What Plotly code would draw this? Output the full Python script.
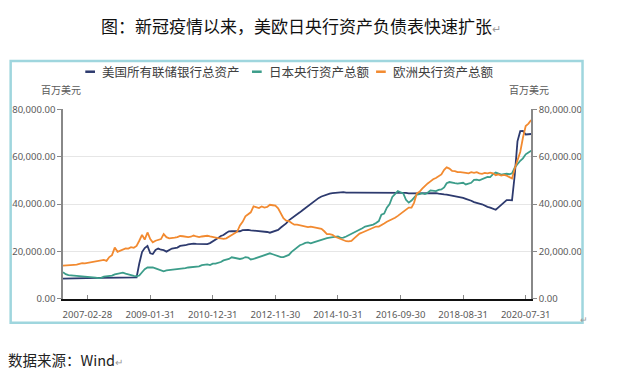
import pandas as pd
import plotly.graph_objects as go

# ---------------- data (monthly, 2006-05 .. 2020-09) ----------------
fed_assets = [
    # 2006 May-Dec
    8500, 8550, 8580, 8600, 8620, 8650, 8680, 8740,
    # 2007
    8700, 8720, 8750, 8780, 8800, 8820, 8840, 8850, 8800, 8850, 8900, 8950,
    # 2008
    8900, 8850, 8900, 8900, 8900, 8950, 9000, 9050, 14900, 19700, 21400, 22300,
    # 2009
    19200, 18900, 20600, 21200, 20700, 20500, 19900, 20600, 21200, 21400, 21600, 22300,
    # 2010
    22300, 22600, 23000, 23200, 23300, 23200, 23100, 23000, 23000, 23100, 23500, 24200,
    # 2011
    24800, 25600, 26500, 26900, 27800, 28500, 28600, 28600, 28500, 28500, 29000, 29200,
    # 2012
    29100, 28900, 28800, 28600, 28500, 28700, 28500, 28200, 27900, 28200, 28500, 29100,
    # 2013
    30100, 30900, 31800, 33100, 33900, 34600, 35500, 36500, 37400, 38300, 39300, 40100,
    # 2014
    41100, 41800, 42600, 43200, 43700, 44100, 44400, 44600, 44700, 44800, 44800, 45000,
    # 2015
    44800, 44900, 44800, 44800, 44800, 44700, 44800, 44800, 44800, 44800, 44800, 44900,
    # 2016
    44800, 44800, 44800, 44800, 44800, 44800, 44800, 44800, 44800, 44800, 44700, 44500,
    # 2017
    44500, 44700, 44700, 44800, 44800, 44700, 44700, 44700, 44600, 44600, 44400, 44400,
    # 2018
    44100, 44000, 43800, 43600, 43400, 43000, 42900, 42600, 42200, 41900, 41400, 40800,
    # 2019
    40600, 40200, 39900, 39200, 38800, 38500, 38200, 37600, 38600, 39700, 40600, 41700,
    # 2020 Jan-Sep
    41700, 41600, 52500, 66500, 70800, 70900, 69400, 69500, 69600,
]

boj_assets = [
    # 2006 May-Dec
    11200, 10400, 10000, 9900, 9800, 9800, 9700, 9700,
    # 2007
    9600, 9500, 9400, 9200, 8900, 8700, 8800, 9300, 9500, 9400, 9800, 10300,
    # 2008
    10500, 10800, 11000, 10600, 10200, 10000, 9700, 9500, 9800, 11200, 12500, 13200,
    # 2009
    13300, 13200, 12800, 12500, 12000, 11600, 12000, 12100, 12400, 12300, 12500, 12800,
    # 2010
    12800, 12900, 13200, 13300, 13500, 13800, 13700, 14200, 14300, 14500, 14200, 14800,
    # 2011
    14800, 15000, 15500, 16200, 16500, 16800, 17500, 17300, 17000, 16800, 17000, 17600,
    # 2012
    17400, 16600, 16800, 17200, 17800, 18200, 18500, 19000, 19200, 18800, 18400, 17800,
    # 2013
    17600, 17600, 17900, 18500, 19800, 20800, 21800, 22600, 23000, 23600, 23800, 23400,
    # 2014
    23800, 24200, 24500, 24900, 25300, 25600, 25800, 26000, 26000, 26300, 25700, 25800,
    # 2015
    26300, 26800, 27500, 28200, 28500, 29000, 29800, 30500, 30800, 31200, 31300, 32000,
    # 2016
    32800, 35500, 36000, 38500, 40000, 43000, 44300, 45500, 45000, 44500, 41800, 40600,
    # 2017
    41500, 42800, 44000, 44200, 44600, 44200, 44800, 45800, 45500, 45500, 46000, 46200,
    # 2018
    47000, 48800, 49300, 49200, 48800, 48600, 48900, 49000, 48300, 48500, 49000, 50200,
    # 2019
    50300, 50000, 50500, 50800, 51500, 51400, 52600, 53300, 52700, 52400, 52600, 52800,
    # 2020 Jan-Sep
    52600, 53000, 55500, 57000, 58300, 59300, 61000, 61800, 62500,
]

ecb_assets = [
    # 2006 May-Dec
    14000, 14000, 14100, 14200, 14300, 14400, 14700, 15000,
    # 2007
    14900, 15100, 15400, 15700, 15800, 16100, 16300, 16400, 16000, 17600, 18400, 21600,
    # 2008
    19800, 20300, 21000, 21300, 21200, 21800, 21500, 22300, 24500, 27000, 25000, 28000,
    # 2009
    25200, 23800, 24500, 25000, 25200, 27300, 26000, 25500, 25800, 25800, 26000, 26500,
    # 2010
    26400, 26200, 26000, 26200, 26700, 26300, 26000, 26300, 26500, 26600, 26300, 26000,
    # 2011
    25800, 25600, 25500, 25300, 25500, 26200, 26700, 27500, 28300, 31000, 32500, 34800,
    # 2012
    35500, 36500, 39000, 38500, 38300, 39000, 38500, 38800, 39700, 39500, 39300, 38200,
    # 2013
    36000, 34000, 33000, 32800, 32000, 31300, 31300, 31000, 30800, 30500, 30300, 30500,
    # 2014
    30200, 30000, 29800, 29500, 28500, 27300, 27300, 27000, 26200, 25700, 25500, 24800,
    # 2015
    24300, 24200, 24400, 25500, 26500, 27500, 28000, 28500, 29000, 29500, 30000, 30500,
    # 2016
    30500, 31000, 31800, 32500, 33000, 33500, 34200, 35000, 35800, 36500, 37500, 38500,
    # 2017
    38500, 40500, 44500, 45200, 46500, 47800, 48700, 49600, 50500, 51000, 51800, 52500,
    # 2018
    54500, 55500, 55000, 54000, 53900, 53500, 53500, 53200, 53200, 53000, 53500, 53200,
    # 2019
    53500, 53000, 52800, 53200, 53000, 53300, 53000, 52200, 52500, 52000, 52300, 52000,
    # 2020 Jan-Sep
    51500, 50800, 55000, 58500, 62000, 68000, 73000, 74000, 75500,
]

series_names = ["美国所有联储银行总资产", "日本央行资产总额", "欧洲央行资产总额"]
series_colors = ["#2D3A6E", "#3C9D8A", "#F28A30"]

x_tick_dates = ["2007-02-28", "2009-01-31", "2010-12-31", "2012-11-30",
                "2014-10-31", "2016-09-30", "2018-08-31", "2020-07-31"]
y_tick_values = [0, 20000, 40000, 60000, 80000]

title_text = "图：新冠疫情以来，美欧日央行资产负债表快速扩张"
source_text = "数据来源：Wind"
unit_text = "百万美元"

# ---------------- figure ----------------
W, H = 618, 382
dates = pd.date_range(start="2006-05-01", periods=len(fed_assets), freq="MS") + pd.offsets.MonthEnd(0)


def px(x):
    return x / W


def py(y):
    return 1 - y / H


CJK = "Noto Sans CJK SC, Noto Sans, sans-serif"
NUM = "Noto Sans, Open Sans, sans-serif"

fig = go.Figure()
all_series = [fed_assets, boj_assets, ecb_assets]
for i, (vals, name, col) in enumerate(zip(all_series, series_names, series_colors)):
    fig.add_trace(go.Scatter(
        x=dates, y=vals, mode="lines", name=name,
        line=dict(color=col, width=1.8),
        yaxis="y2" if i == 2 else "y",
        showlegend=False,
    ))

fig.update_layout(
    width=W, height=H, autosize=False,
    margin=dict(l=0, r=0, t=0, b=0),
    paper_bgcolor="white", plot_bgcolor="white",
    font=dict(family=CJK, size=10, color="#595959"),
    xaxis=dict(
        domain=[px(65), px(548)],
        range=[dates[0], dates[-1]],
        tickmode="array", tickvals=pd.to_datetime(x_tick_dates), ticktext=x_tick_dates,
        ticks="inside", ticklen=4, tickcolor="#888888", tickwidth=1,
        showline=True, linecolor="#111111", linewidth=2,
        showgrid=False, zeroline=False,
        tickfont=dict(family=NUM, size=9.5, color="#595959"),
        ticklabelstandoff=6,
    ),
    yaxis=dict(
        domain=[py(302), py(106)],
        range=[0, 80000],
        tickmode="array", tickvals=y_tick_values, tickformat=",.2f",
        ticks="outside", ticklen=4, tickcolor="#888888",
        showline=True, linecolor="#888888", linewidth=1.5,
        showgrid=True, gridcolor="#E6E6E6", gridwidth=1,
        zeroline=False,
        tickfont=dict(family=NUM, size=9.5, color="#595959"),
    ),
    yaxis2=dict(
        overlaying="y", side="right", anchor="x",
        range=[0, 80000],
        tickmode="array", tickvals=y_tick_values, tickformat=",.2f",
        ticks="outside", ticklen=4, tickcolor="#888888",
        showline=True, linecolor="#888888", linewidth=1.5,
        showgrid=False, zeroline=False,
        tickfont=dict(family=NUM, size=9.5, color="#595959"),
    ),
)

shapes = []
# outer frame of the chart box
shapes.append(dict(type="rect", xref="paper", yref="paper",
                   x0=px(11), x1=px(601), y0=py(327), y1=py(56),
                   line=dict(color="#9FD6DE", width=2.5), fillcolor="rgba(0,0,0,0)", layer="above"))
# manual legend line samples
legend_x = [(88, 98), (260, 270), (388, 398)]
legend_text_x = [103, 275, 403]
for (a, b), col in zip(legend_x, series_colors):
    shapes.append(dict(type="line", xref="paper", yref="paper",
                       x0=px(a), x1=px(b), y0=py(67), y1=py(67),
                       line=dict(color=col, width=2.5)))
fig.update_layout(shapes=shapes)

annotations = [
    dict(text=title_text + "<span style='color:#9a9a9a;font-size:11px'>↵</span>",
         x=px(311), y=py(19), xref="paper", yref="paper", showarrow=False,
         xanchor="center", yanchor="middle",
         font=dict(family=CJK, size=17, color="#111111")),
    dict(text=source_text + "<span style='color:#9a9a9a;font-size:10px'>↵</span>",
         x=px(6), y=py(365), xref="paper", yref="paper", showarrow=False,
         xanchor="left", yanchor="middle",
         font=dict(family=CJK, size=14.5, color="#222222")),
    dict(text="↵", x=px(603), y=py(324), xref="paper", yref="paper", showarrow=False,
         xanchor="center", yanchor="middle", font=dict(family=CJK, size=9, color="#9a9a9a")),
    dict(text=unit_text, x=px(63), y=py(85), xref="paper", yref="paper", showarrow=False,
         xanchor="center", yanchor="middle", font=dict(family=CJK, size=10, color="#595959")),
    dict(text=unit_text, x=px(546), y=py(85), xref="paper", yref="paper", showarrow=False,
         xanchor="center", yanchor="middle", font=dict(family=CJK, size=10, color="#595959")),
]
for tx, name in zip(legend_text_x, series_names):
    annotations.append(dict(text=name, x=px(tx), y=py(67), xref="paper", yref="paper",
                            showarrow=False, xanchor="left", yanchor="middle",
                            font=dict(family=CJK, size=12.5, color="#404040")))
fig.update_layout(annotations=annotations)

fig.write_html("out.html")
